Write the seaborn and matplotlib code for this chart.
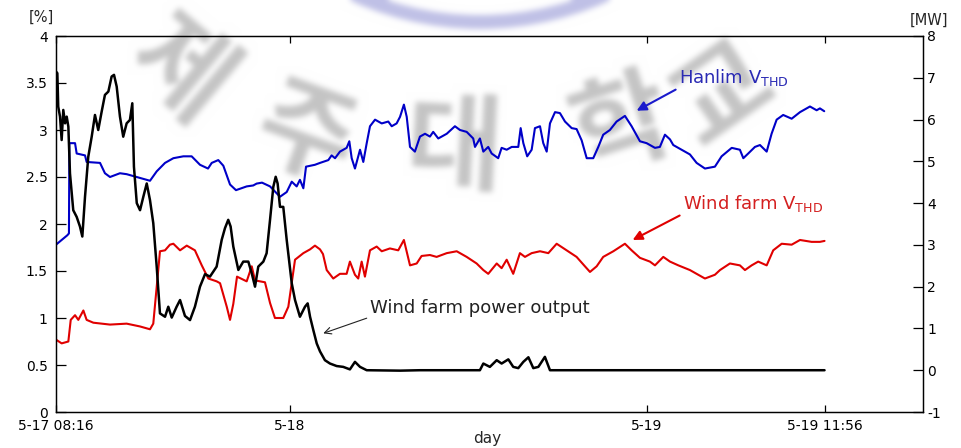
import numpy as np
import pandas as pd
import matplotlib
matplotlib.use("Agg")
import matplotlib.pyplot as plt
import seaborn as sns
from matplotlib.patches import Arc
from matplotlib.backends.backend_agg import FigureCanvasAgg

# Time axis: hours elapsed since 5-17 08:16
hanlim_t = [0.00, 0.76, 0.87, 0.90, 1.28, 1.39, 1.95, 2.06, 2.96, 3.29, 3.63, 4.30, 4.75, 5.43,
            5.87, 6.32, 6.77, 7.33, 7.89, 8.56, 9.12, 9.68, 10.22, 10.47, 10.91, 11.25, 11.70,
            12.10, 12.82, 13.26, 13.49, 13.85, 14.39, 15.06, 15.51, 15.85, 16.18, 16.40, 16.63,
            16.81, 17.41, 17.75, 18.31, 18.53, 18.76, 19.09, 19.31, 19.54, 19.72, 19.88, 20.10,
            20.44, 20.66, 20.89, 21.11, 21.45, 21.90, 22.34, 22.57, 22.90, 23.13, 23.39, 23.58,
            23.80, 24.13, 24.47, 24.81, 25.14, 25.36, 25.70, 26.27, 26.82, 27.16, 27.61, 28.05,
            28.17, 28.50, 28.73, 29.06, 29.29, 29.73, 29.96, 30.30, 30.64, 31.08, 31.24, 31.42,
            31.68, 31.98, 32.20, 32.54, 32.76, 32.99, 33.21, 33.55, 33.88, 34.22, 34.67, 35.00,
            35.34, 35.68, 36.12, 36.46, 36.79, 37.24, 37.69, 38.25, 38.70, 39.26, 39.71, 40.27,
            40.60, 40.94, 41.28, 41.50, 42.06, 42.62, 43.07, 43.63, 44.30, 44.75, 45.43, 45.98,
            46.21, 46.54, 46.99, 47.33, 47.78, 48.11, 48.45, 48.89, 49.46, 50.02, 50.69, 51.14,
            51.36, 51.65]
hanlim_thd = [1.78, 1.88, 1.90, 2.86, 2.86, 2.75, 2.73, 2.66, 2.65, 2.54, 2.50, 2.54, 2.53, 2.50,
              2.48, 2.46, 2.56, 2.65, 2.70, 2.72, 2.72, 2.63, 2.59, 2.65, 2.68, 2.62, 2.42,
              2.36, 2.40, 2.41, 2.43, 2.44, 2.40, 2.29, 2.34, 2.45, 2.40, 2.47, 2.38,
              2.61, 2.63, 2.65, 2.68, 2.73, 2.70, 2.77, 2.79, 2.81, 2.88, 2.70, 2.59,
              2.79, 2.66, 2.86, 3.04, 3.11, 3.07, 3.09, 3.04, 3.07, 3.14, 3.27, 3.14,
              2.82, 2.77, 2.93, 2.96, 2.93, 2.98, 2.91, 2.96, 3.04, 3.00, 2.98, 2.91,
              2.82, 2.91, 2.77, 2.82, 2.75, 2.70, 2.81, 2.79, 2.82, 2.82, 3.02, 2.86,
              2.72, 2.79, 3.02, 3.04, 2.86, 2.77, 3.07, 3.19, 3.18, 3.09, 3.02, 3.01,
              2.89, 2.70, 2.70, 2.82, 2.95, 3.00, 3.09, 3.15, 3.04, 2.88, 2.86, 2.81,
              2.82, 2.95, 2.90, 2.84, 2.79, 2.74, 2.65, 2.59, 2.61, 2.72, 2.81, 2.79,
              2.70, 2.75, 2.82, 2.84, 2.77, 2.96, 3.11, 3.16, 3.12, 3.19, 3.25, 3.21,
              3.23, 3.20]

windfarm_t = [0.00, 0.38, 0.83, 0.99, 1.28, 1.50, 1.84, 2.06, 2.51, 3.63, 4.75, 5.65, 6.32, 6.54,
              6.77, 6.99, 7.33, 7.66, 7.89, 8.34, 8.79, 9.34, 9.80, 10.24, 10.80, 11.03, 11.48,
              11.70, 11.92, 12.17, 12.82, 13.16, 13.38, 14.05, 14.39, 14.72, 15.28, 15.62, 16.07,
              16.63, 17.08, 17.41, 17.75, 17.95, 18.20, 18.64, 19.09, 19.54, 19.76, 20.10, 20.32,
              20.55, 20.77, 21.11, 21.56, 21.90, 22.45, 23.01, 23.39, 23.80, 24.25, 24.58, 25.14,
              25.59, 26.27, 26.94, 27.61, 28.28, 28.73, 29.06, 29.63, 29.96, 30.30, 30.74, 31.19,
              31.53, 31.98, 32.54, 33.10, 33.66, 34.33, 35.00, 35.56, 35.90, 36.35, 36.79, 37.47,
              38.25, 38.70, 39.26, 39.93, 40.27, 40.83, 41.28, 41.84, 42.62, 43.18, 43.63, 44.30,
              44.64, 45.31, 45.98, 46.32, 46.77, 47.21, 47.78, 48.22, 48.79, 49.46, 50.02, 50.80,
              51.36, 51.67]
windfarm_thd = [0.77, 0.73, 0.75, 0.98, 1.03, 0.98, 1.08, 0.98, 0.95, 0.93, 0.94, 0.91, 0.88, 0.94,
                1.33, 1.71, 1.72, 1.78, 1.79, 1.72, 1.77, 1.72, 1.56, 1.42, 1.39, 1.37, 1.12,
                0.98, 1.15, 1.44, 1.39, 1.55, 1.40, 1.38, 1.16, 1.00, 1.00, 1.12, 1.62,
                1.69, 1.73, 1.77, 1.73, 1.68, 1.51, 1.42, 1.47, 1.47, 1.60, 1.46, 1.42,
                1.60, 1.44, 1.72, 1.76, 1.71, 1.74, 1.72, 1.83, 1.56, 1.58, 1.66, 1.67,
                1.65, 1.69, 1.71, 1.65, 1.58, 1.51, 1.47, 1.58, 1.53, 1.62, 1.47, 1.69,
                1.65, 1.69, 1.71, 1.69, 1.79, 1.72, 1.65, 1.55, 1.49, 1.55, 1.65, 1.71,
                1.79, 1.72, 1.64, 1.60, 1.56, 1.65, 1.60, 1.56, 1.51, 1.46, 1.42, 1.46,
                1.51, 1.58, 1.56, 1.51, 1.56, 1.60, 1.56, 1.72, 1.79, 1.78, 1.83, 1.81,
                1.81, 1.82]

power_t = [0.00, 0.09, 0.15, 0.27, 0.38, 0.49, 0.61, 0.72, 0.83, 0.94, 1.16, 1.39, 1.61, 1.77,
           1.95, 2.17, 2.40, 2.62, 2.84, 3.07, 3.29, 3.52, 3.74, 3.90, 4.08, 4.30, 4.52, 4.75,
           4.97, 5.13, 5.24, 5.43, 5.65, 5.87, 6.10, 6.32, 6.54, 6.77, 6.99, 7.33, 7.55, 7.78,
           8.11, 8.34, 8.67, 9.01, 9.34, 9.68, 10.02, 10.35, 10.80, 11.14, 11.36, 11.58, 11.74,
           11.92, 12.26, 12.59, 12.93, 13.16, 13.38, 13.60, 13.94, 14.16, 14.39, 14.61, 14.77,
           14.90, 15.06, 15.28, 15.51, 15.85, 16.07, 16.40, 16.74, 16.92, 17.08, 17.30, 17.53,
           17.75, 18.08, 18.42, 18.87, 19.31, 19.76, 20.10, 20.44, 20.89, 23.13, 24.47, 28.50,
           28.73, 29.17, 29.63, 29.96, 30.41, 30.74, 31.08, 31.42, 31.76, 32.09, 32.43, 32.87,
           33.21, 51.67]
power_mw = [7.15, 7.11, 6.31, 6.07, 5.51, 6.23, 5.91, 6.07, 5.83, 4.71, 3.83, 3.67, 3.44, 3.20,
            4.15, 5.11, 5.59, 6.11, 5.75, 6.19, 6.59, 6.67, 7.03, 7.07, 6.79, 6.07, 5.59, 5.91,
            5.99, 6.39, 4.87, 4.00, 3.83, 4.15, 4.47, 4.07, 3.52, 2.48, 1.36, 1.28, 1.52, 1.26,
            1.52, 1.68, 1.30, 1.20, 1.52, 2.00, 2.30, 2.24, 2.48, 3.12, 3.40, 3.60, 3.44,
            2.96, 2.40, 2.60, 2.60, 2.32, 2.00, 2.48, 2.60, 2.80, 3.60, 4.39, 4.63,
            4.47, 3.91, 3.91, 3.12, 2.08, 1.68, 1.28, 1.52, 1.60, 1.28, 0.96, 0.64,
            0.45, 0.24, 0.16, 0.10, 0.08, 0.02, 0.20, 0.08, 0.00, -0.01, 0.00, 0.00,
            0.16, 0.08, 0.24, 0.16, 0.26, 0.08, 0.05, 0.20, 0.31, 0.05, 0.08, 0.32,
            0.00, 0.00]

tick_hours = [0.0, 15.73, 39.73, 51.67]
tick_labels = ["5-17 08:16", "5-18", "5-19", "5-19 11:56"]
pct_ticks = [0, 0.5, 1, 1.5, 2, 2.5, 3, 3.5, 4]
mw_ticks = [-1, 0, 1, 2, 3, 4, 5, 6, 7, 8]

hanlim = pd.DataFrame({"hours": hanlim_t, "thd": hanlim_thd})
windfarm = pd.DataFrame({"hours": windfarm_t, "thd": windfarm_thd})
power = pd.DataFrame({"hours": power_t, "mw": power_mw})

sns.set_style("white")
plt.rcParams["font.family"] = ["DejaVu Sans"]
plt.rcParams["mathtext.fontset"] = "dejavusans"

W, H = 962, 448


def seal_background():
    """Render the faint, soft university seal as an RGB array."""
    bg = plt.figure(figsize=(W / 100, H / 100), dpi=100)
    bg.patch.set_facecolor("white")
    seal = [("제", 180, 72, -40), ("주", 305, 138, -20), ("대", 455, 150, -3),
            ("학", 622, 128, 18), ("교", 723, 95, 35)]
    for ch, px, py, rot in seal:
        bg.text(px / W, 1 - py / H, ch, fontsize=76, family="Noto Sans CJK KR",
                weight="bold", color="#c4c4c4", rotation=rot, ha="center", va="center")
    ring = Arc((480 / W, 1 + 281 / H), 2 * 303 / W, 2 * 303 / H, theta1=236, theta2=304,
               transform=bg.transFigure, color="#bfc0e6", lw=10)
    bg.add_artist(ring)
    canvas = FigureCanvasAgg(bg)
    canvas.draw()
    img = np.asarray(canvas.buffer_rgba())[:, :, :3].astype(float) / 255.0
    plt.close(bg)
    r = np.arange(-9, 10)
    k = np.exp(-0.5 * (r / 3.0) ** 2)
    k /= k.sum()
    pad = np.pad(img, ((9, 9), (9, 9), (0, 0)), mode="edge")
    tmp = sum(k[i] * pad[i:i + img.shape[0], :, :] for i in range(len(k)))
    out = sum(k[i] * tmp[:, i:i + img.shape[1], :] for i in range(len(k)))
    return np.clip(out, 0, 1)


fig = plt.figure(figsize=(W / 100, H / 100), dpi=100)
fig.patch.set_facecolor("white")
fig.figimage(seal_background(), xo=0, yo=0, origin="upper", zorder=-3)

ax = fig.add_axes([56 / W, (H - 412) / H, (923 - 56) / W, (412 - 36) / H])
ax2 = ax.twinx()
for a in (ax, ax2):
    a.patch.set_visible(False)

sns.lineplot(data=hanlim, x="hours", y="thd", ax=ax, color="#0000c8", lw=1.5,
             sort=False, estimator=None)
sns.lineplot(data=windfarm, x="hours", y="thd", ax=ax, color="#e00000", lw=1.5,
             sort=False, estimator=None)
sns.lineplot(data=power, x="hours", y="mw", ax=ax2, color="black", lw=1.8,
             sort=False, estimator=None)

ax.set_xlim(0, 58.29)
ax.set_ylim(0, 4)
ax2.set_ylim(-1, 8)
ax.set_xticks(tick_hours)
ax.set_xticklabels(tick_labels)
ax.set_yticks(pct_ticks)
ax.set_yticklabels([f"{v:g}" for v in pct_ticks])
ax2.set_yticks(mw_ticks)
ax2.set_yticklabels([str(v) for v in mw_ticks])
for a in (ax, ax2):
    a.set_xlabel("")
    a.set_ylabel("")
    for s in a.spines.values():
        s.set_visible(True)
        s.set_color("black")
        s.set_linewidth(0.9)

ax.tick_params(axis="x", direction="in", top=True, bottom=True, length=5, width=0.9,
               pad=5, labelsize=10, colors="black")
ax.tick_params(axis="y", direction="in", left=True, right=False, length=7, width=0.9,
               pad=6, labelsize=10, colors="black")
ax2.tick_params(axis="y", direction="in", right=True, left=False, length=7, width=0.9,
                pad=3, labelsize=10, colors="black")

fig.text(41 / W, 1 - 17 / H, "[%]", fontsize=10.5, ha="center", va="center")
fig.text(929 / W, 1 - 20 / H, "[MW]", fontsize=10.5, ha="center", va="center")
fig.text(487 / W, 1 - 438 / H, "day", fontsize=11, ha="center", va="center")

ax.annotate("Hanlim V$_{\\mathrm{THD}}$", xy=(39.04, 3.205), xytext=(41.88, 3.56),
            color="#2a2ab4", fontsize=13, ha="left", va="center",
            arrowprops=dict(arrowstyle="-|>", color="#1a1acc", lw=1.5, mutation_scale=14,
                            shrinkA=0, shrinkB=0, relpos=(0, 0)))
ax.annotate("Wind farm V$_{\\mathrm{THD}}$", xy=(38.77, 1.83), xytext=(42.15, 2.22),
            color="#d42020", fontsize=13, ha="left", va="center",
            arrowprops=dict(arrowstyle="-|>", color="#e00000", lw=1.5, mutation_scale=14,
                            shrinkA=0, shrinkB=0, relpos=(0, 0)))
ax.annotate("Wind farm power output", xy=(17.97, 0.837), xytext=(21.11, 1.106),
            color="#222222", fontsize=13, ha="left", va="center",
            arrowprops=dict(arrowstyle="->", color="#222222", lw=0.8, mutation_scale=12,
                            shrinkA=0, shrinkB=0, relpos=(0, 0)))

fig.savefig("out.png", dpi=100)
